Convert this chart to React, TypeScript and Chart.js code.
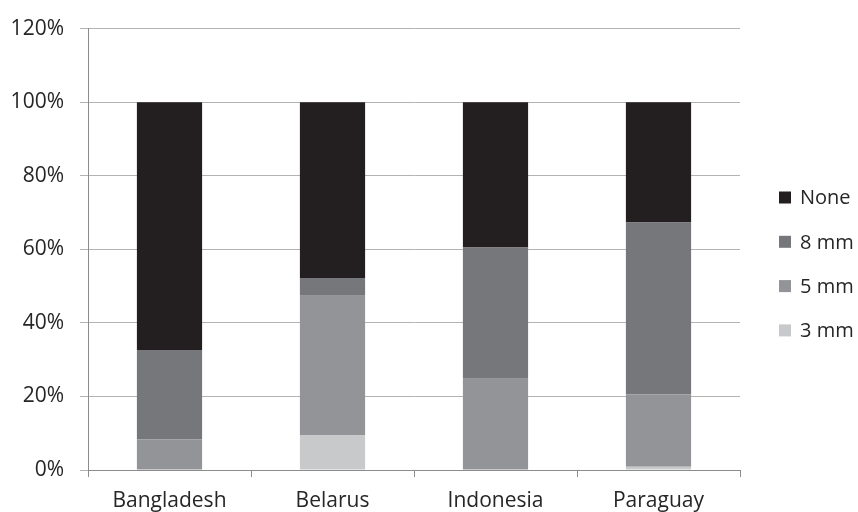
import React, { useEffect, useRef } from "react";
import { Chart, registerables } from "chart.js";

Chart.register(...registerables);

// Categories and stacked shares (percent of respondents)
const countries = ["Bangladesh", "Belarus", "Indonesia", "Paraguay"];
const mm3 = [0, 9.4, 0, 0.9];
const mm5 = [8.3, 38.0, 24.8, 19.6];
const mm8 = [24.3, 4.8, 35.7, 46.8];
const none = [67.4, 47.8, 39.5, 32.7];

const seriesLabels = ["3 mm", "5 mm", "8 mm", "None"];
const seriesColors = ["#c8c9cb", "#939497", "#76777a", "#231f20"];

const yTickMax = 120;
const yTickStep = 20;

const FONT = "'Open Sans', 'DejaVu Sans', sans-serif";
const TEXT = "#262626";

// Vertical legend at the right, top entry = last series
const legendPlugin = {
  id: "sideLegend",
  afterDraw(chart: any) {
    const { ctx, chartArea } = chart;
    const ds = chart.data.datasets;
    const boxX = chartArea.right + 39;
    const firstY = 197.5;
    const step = 44.3;
    ctx.save();
    ctx.font = `20px ${FONT}`;
    ctx.textBaseline = "middle";
    ctx.textAlign = "left";
    for (let i = ds.length - 1, k = 0; i >= 0; i--, k++) {
      const cy = firstY + k * step;
      ctx.fillStyle = ds[i].backgroundColor;
      ctx.fillRect(boxX, cy - 6, 12, 12);
      ctx.fillStyle = TEXT;
      ctx.fillText(ds[i].label, boxX + 21, cy + 1);
    }
    ctx.restore();
  },
};

export default function App() {
  const canvasRef = useRef<HTMLCanvasElement | null>(null);

  useEffect(() => {
    document.body.style.margin = "0";
    const canvas = canvasRef.current;
    if (!canvas) return;
    const values = [mm3, mm5, mm8, none];
    const chart = new Chart(canvas, {
      type: "bar",
      data: {
        labels: countries,
        datasets: values.map((v, i) => ({
          label: seriesLabels[i],
          data: v,
          backgroundColor: seriesColors[i],
          borderWidth: 0,
          barPercentage: 0.4,
          categoryPercentage: 1,
        })),
      },
      options: {
        responsive: false,
        animation: false,
        devicePixelRatio: 1,
        layout: { padding: { top: 24, right: 118, left: 0, bottom: 0 } },
        plugins: {
          legend: { display: false },
          tooltip: { enabled: false },
        },
        scales: {
          x: {
            stacked: true,
            grid: {
              offset: true,
              drawOnChartArea: false,
              drawTicks: true,
              tickLength: 7,
              color: "#8c8c8c",
            },
            border: { color: "#8c8c8c" },
            ticks: {
              color: TEXT,
              font: { family: FONT, size: 21 },
              padding: 11,
              maxRotation: 0,
            },
            afterFit(scale: any) {
              scale.height = 42;
            },
          },
          y: {
            stacked: true,
            min: 0,
            max: yTickMax,
            ticks: {
              stepSize: yTickStep,
              color: TEXT,
              font: { family: FONT, size: 21 },
              padding: 16,
              callback: (v: any) => `${v}%`,
            },
            grid: { color: "#b3b3b3", tickLength: 8 },
            border: { color: "#8c8c8c" },
            afterFit(scale: any) {
              scale.width = 88;
            },
          },
        },
      },
      plugins: [legendPlugin],
    });
    return () => chart.destroy();
  }, []);

  return (
    <div style={{ width: 858, height: 512, background: "#fff" }}>
      <canvas ref={canvasRef} width={858} height={512} />
    </div>
  );
}
